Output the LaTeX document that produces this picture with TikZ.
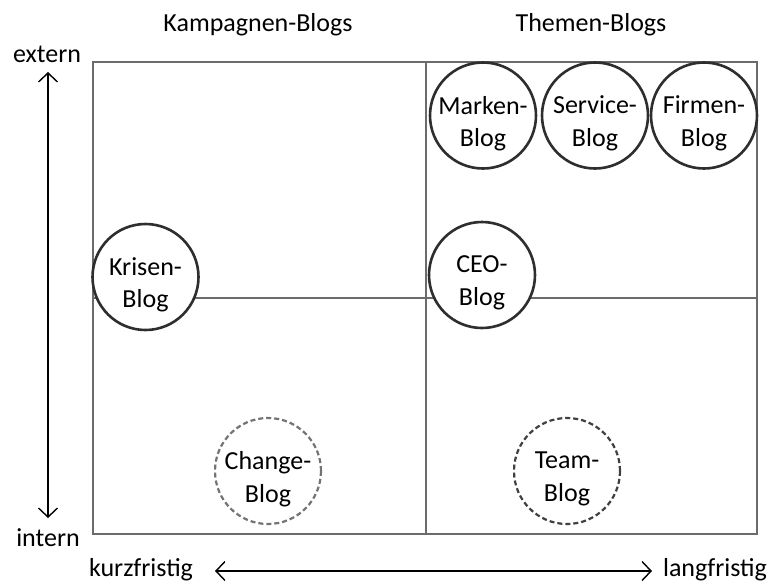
\documentclass[tikz,border=0pt]{standalone}
\usepackage{fontspec}
\setmainfont{Carlito}
\usetikzlibrary{arrows.meta}
\begin{document}
\begin{tikzpicture}[x=1pt,y=-1pt,
  grid/.style={draw=black!58,line width=2.6pt},
  blogtext/.style={align=center,inner sep=0pt,yshift=-8pt,font=\fontsize{26}{32.5}\selectfont},
  blog/.style={circle,draw=black!82,line width=2.6pt,fill=white,minimum size=106pt,inner sep=0pt,
    label={[blogtext]center:#1}},
  plannedblog/.style={blog=#1,draw=black!55,dash pattern=on 5pt off 3pt,line width=2.2pt},
  lbl/.style={font=\fontsize{26}{30}\selectfont,inner sep=1pt},
  axis/.style={line width=1.4pt,{Straight Barb[length=9pt,width=19pt,line width=1.4pt]}-{Straight Barb[length=9pt,width=19pt,line width=1.4pt]}}]
\useasboundingbox (0,0) rectangle (771,584);
% quadrant frame
\draw[grid] (93,62) rectangle (757,534);
\draw[grid] (426,62) -- (426,534);
\draw[grid] (93,298) -- (757,298);
% column headings
\node[lbl] (kamp) at (258,25) {Kampagnen-Blogs};
\node[lbl] (them) at (591,25) {Themen-Blogs};
% axes
\node[lbl] (ext) at (47,54) {extern};
\node[lbl] (int) at (48,538) {intern};
\node[lbl] (kurz) at (141,570) {kurzfristig};
\node[lbl] (lang) at (715,570) {langfristig};
\coordinate (exttip) at (48,72);
\coordinate (inttip) at (48,518);
\coordinate (kurztip) at (215,571);
\coordinate (langtip) at (652,571);
\draw[axis] (exttip) -- (inttip);
\draw[axis] (kurztip) -- (langtip);
% blogs
\node[blog={Krisen-\\Blog}] (krisen) at (145.5,277) {};
\node[blog={Marken-\\Blog}] (marken) at (483,115.5) {};
\node[blog={Service-\\Blog}] (service) at (595,115.5) {};
\node[blog={Firmen-\\Blog}] (firmen) at (704,115.5) {};
\node[blog={CEO-\\Blog}] (ceo) at (482,275) {};
\node[plannedblog={Change-\\Blog}] (change) at (268,471) {};
\node[plannedblog={Team-\\Blog},draw=black!75] (team) at (567,471) {};
\end{tikzpicture}
\end{document}
